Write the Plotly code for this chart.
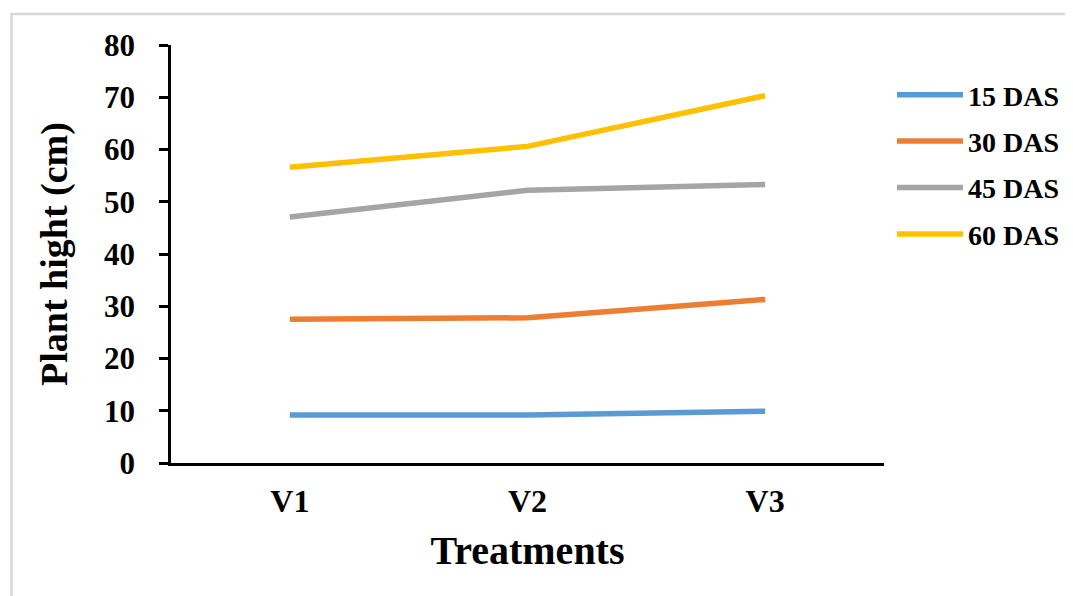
import plotly.graph_objects as go

categories = ["V1", "V2", "V3"]
das15 = [9.2, 9.2, 9.9]
das30 = [27.5, 27.8, 31.3]
das45 = [47.1, 52.2, 53.3]
das60 = [56.6, 60.6, 70.3]
series_names = ["15 DAS", "30 DAS", "45 DAS", "60 DAS"]
series_values = [das15, das30, das45, das60]
colors = ["#5B9BD5", "#ED7D31", "#A5A5A5", "#FFC000"]
y_ticks = [0, 10, 20, 30, 40, 50, 60, 70, 80]

FONT = "Liberation Serif"
OFF = 8  # page body margin offset
W, H = 1073, 596
L, R, T, B = 171 - OFF, 189 + OFF, 45 - OFF, 133 + OFF

fig = go.Figure()
for name, vals, col in zip(series_names, series_values, colors):
    fig.add_trace(go.Scatter(
        x=categories, y=vals, mode="lines", name=name, legendgroup=name,
        line=dict(color=col, width=5.5),
    ))

pw = W - L - R
ph = H - T - B
def px_x(p):
    return (p - OFF - L) / pw
def px_y(p):
    return (H - B - (p - OFF)) / ph

fig.update_layout(
    width=W, height=H,
    margin=dict(l=L, r=R, t=T, b=B, pad=0),
    paper_bgcolor="white", plot_bgcolor="white",
    font=dict(family=FONT, color="black"),
    showlegend=True,
    legend=dict(
        x=px_x(892), y=px_y(70), xanchor="left", yanchor="top",
        font=dict(family=FONT, size=28, color="black", weight="bold"),
        itemwidth=66, tracegroupgap=7, bgcolor="rgba(0,0,0,0)",
    ),
    xaxis=dict(
        range=[-0.5, 2.5], showgrid=False, zeroline=False,
        showline=True, linecolor="black", linewidth=2.5,
        ticks="", tickfont=dict(family=FONT, size=32, color="black", weight="bold"),
        ticklabelstandoff=8,
        title=dict(text="Treatments", font=dict(family=FONT, size=40, color="black", weight="bold"), standoff=18),
    ),
    yaxis=dict(
        range=[0, 80], tickvals=y_ticks, showgrid=False, zeroline=False,
        showline=True, linecolor="black", linewidth=2.5,
        ticks="outside", ticklen=9, tickwidth=2.5, tickcolor="black",
        tickfont=dict(family=FONT, size=31, color="black", weight="bold"),
        ticklabelstandoff=18,
        title=dict(text="Plant hight (cm)", font=dict(family=FONT, size=38, color="black", weight="bold"), standoff=25),
    ),
    shapes=[dict(
        type="rect", xref="paper", yref="paper",
        x0=px_x(11.5), x1=px_x(1100), y0=px_y(640), y1=px_y(14),
        line=dict(color="#D9D9D9", width=2.5), fillcolor="rgba(0,0,0,0)", layer="below",
    )],
)

fig.write_html("out.html")
